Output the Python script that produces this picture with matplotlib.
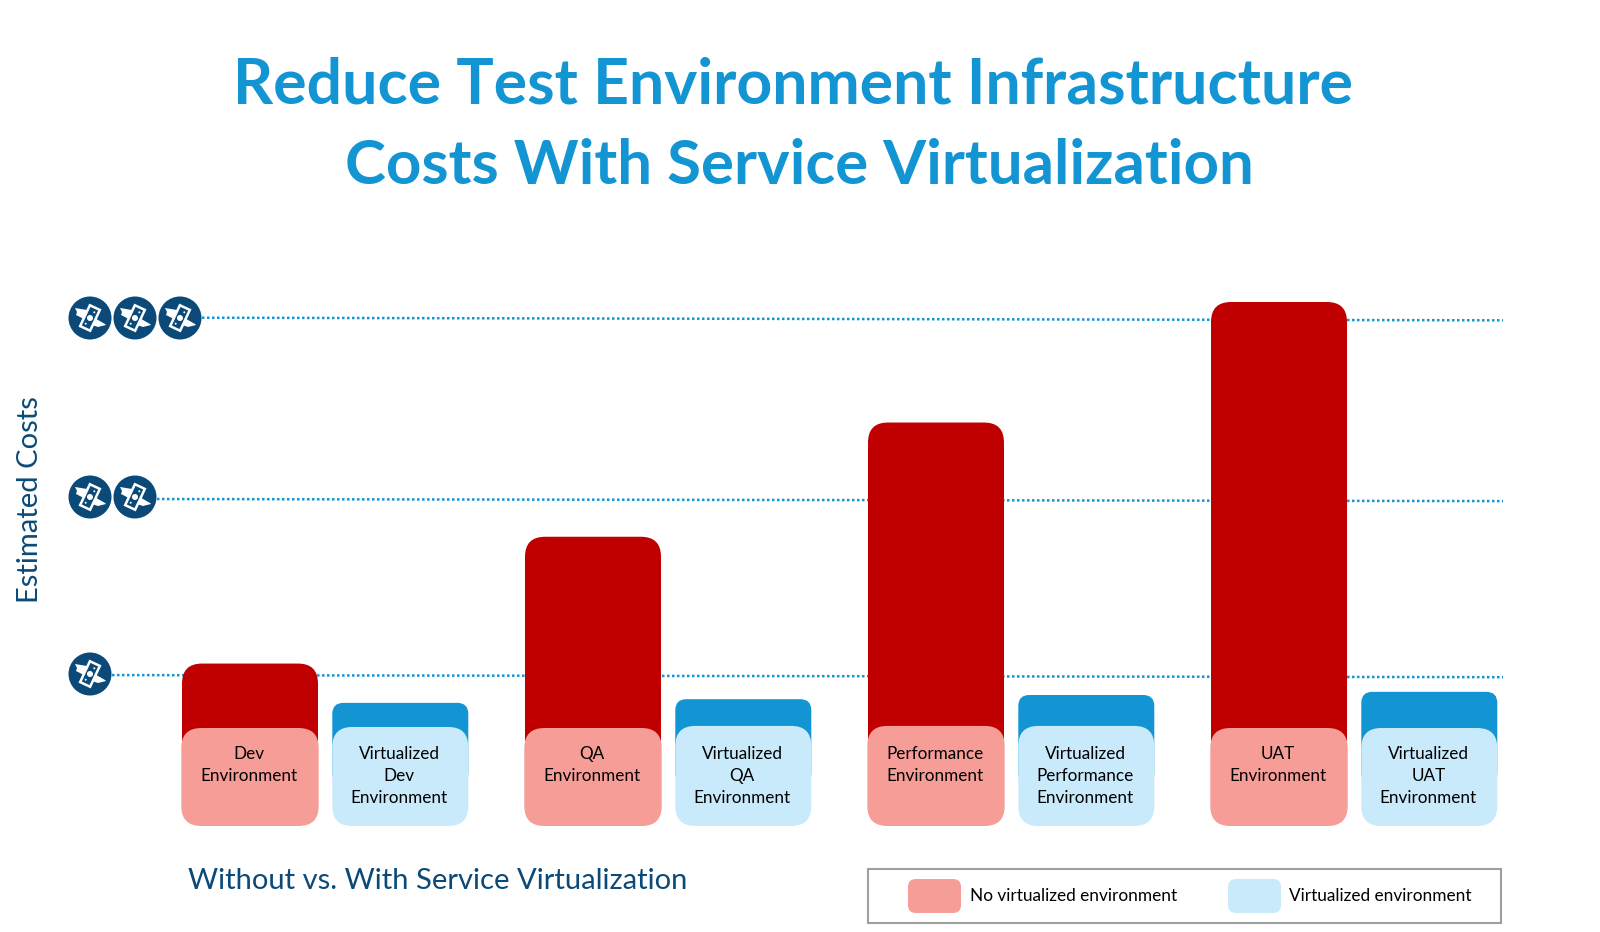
import numpy as np
import matplotlib
matplotlib.use("Agg")
import matplotlib.pyplot as plt
from matplotlib.patches import FancyBboxPatch, Circle, Polygon, Rectangle
from matplotlib.transforms import Affine2D

plt.rcParams['font.family'] = ['Lato', 'DejaVu Sans']

# bar heights on a 0-100 cost scale (UAT = 100)
envs = ["Dev", "QA", "Performance", "UAT"]
without_costs = [31, 55.2, 77, 100]
with_costs = [23.5, 24.2, 25, 25.6]
without_label_box = [18.7, 18.7, 19.1, 18.7]
with_label_box = [18.9, 19.1, 19.1, 18.7]

without_labels = ["Dev\nEnvironment", "QA\nEnvironment", "Performance\nEnvironment", "UAT\nEnvironment"]
with_labels = ["Virtualized\nDev\nEnvironment", "Virtualized\nQA\nEnvironment",
               "Virtualized\nPerformance\nEnvironment", "Virtualized\nUAT\nEnvironment"]

# dotted cost levels and how many money icons each one gets
level_start = [28.8, 62.4, 97.0]
level_end = [28.4, 62.0, 96.5]
level_icons = [1, 2, 3]

DARK_RED = "#c00000"
LIGHT_RED = "#f59d96"
BLUE = "#1295d2"
LIGHT_BLUE = "#c9eafb"
NAVY = "#0b4a78"

W, H = 1600, 932
BASE_PX, PX_PER_UNIT = 826, 5.24
GROUP_PX, BAR_PX = 343, 136
LEFT_PX, BLUE_OFFSET_PX = 182, 150.3

fig = plt.figure(figsize=(W / 100, H / 100), dpi=100)

# main axes: x in group units, y in cost units
ax = fig.add_axes([0, 0, 1, 1])
ax.set_xlim(-LEFT_PX / GROUP_PX, (W - LEFT_PX) / GROUP_PX)
ax.set_ylim((BASE_PX - H) / PX_PER_UNIT, BASE_PX / PX_PER_UNIT)
ax.axis("off")

# overlay in pixels for text and icons
ov = fig.add_axes([0, 0, 1, 1], zorder=5)
ov.set_xlim(0, W)
ov.set_ylim(H, 0)
ov.axis("off")
ov.patch.set_alpha(0)


def round_bar(x, width, height, color, radius_px, zorder, bottom=0):
    # radius is given in pixels, so convert to x units and squash y to match
    r = radius_px / GROUP_PX
    aspect = (GROUP_PX / PX_PER_UNIT)
    patch = FancyBboxPatch((x + r, bottom + r * aspect), width - 2 * r, height - bottom - 2 * r * aspect,
                           boxstyle=f"round,pad={r},rounding_size={r}",
                           mutation_aspect=aspect, fc=color, ec="none", zorder=zorder)
    ax.add_patch(patch)


def money_icon(cx, cy):
    ov.add_patch(Circle((cx, cy), 21.5, fc=NAVY, ec="none"))
    rot = Affine2D().rotate_deg(25).translate(cx, cy) + ov.transData
    shift = Affine2D().translate(cx, cy) + ov.transData
    # wings
    ov.add_patch(Polygon([(-3, -8), (-15, -10), (-13, -6), (-14, -3), (-10, -1), (-3, 3)],
                         fc="white", ec="none", transform=shift))
    ov.add_patch(Polygon([(3, -1), (8, 2), (15, 6), (16, 7), (12, 8), (8, 9), (2, 7)],
                         fc="white", ec="none", transform=shift))
    # bill
    ov.add_patch(Rectangle((-5.5, -11.5), 11, 23, fc=NAVY, ec="white", lw=1.8, transform=rot))
    ov.add_patch(Circle((0, 0), 3, fc="white", ec="none", transform=rot))
    ov.add_patch(Circle((1.5, -7), 1, fc="white", ec="none", transform=rot))
    ov.add_patch(Circle((-1.5, 7), 1, fc="white", ec="none", transform=rot))


bar_w = BAR_PX / GROUP_PX
blue_off = BLUE_OFFSET_PX / GROUP_PX
icon_y = [674, 497, 318]

# dotted level lines go behind the bars
for i, n in enumerate(level_icons):
    x0 = (90 + 45 * (n - 1) + 22 - LEFT_PX) / GROUP_PX
    x1 = (1503 - LEFT_PX) / GROUP_PX
    ax.plot([x0, x1], [level_start[i], level_end[i]], ls=(0, (1, 1)), color=BLUE, lw=1.8, zorder=1)
    for k in range(n):
        money_icon(90 + 45 * k, icon_y[i])

for g in range(len(envs)):
    # dark bars start above the baseline so their corners stay behind the label box
    round_bar(g, bar_w, without_costs[g], DARK_RED, 20, 2, bottom=8)
    round_bar(g + blue_off, bar_w, with_costs[g], BLUE, 11, 2, bottom=8)
    round_bar(g - 0.002, bar_w + 0.004, without_label_box[g], LIGHT_RED, 20, 3)
    round_bar(g + blue_off, bar_w, with_label_box[g], LIGHT_BLUE, 20, 3)
    cx = LEFT_PX + GROUP_PX * g + BAR_PX / 2
    ov.text(cx - 1, 746, without_labels[g], ha="center", va="top", fontsize=12.3, color="black",
            linespacing=1.46)
    ov.text(cx + BLUE_OFFSET_PX - 1, 746, with_labels[g], ha="center", va="top", fontsize=12.3, color="black",
            linespacing=1.46)

# title and axis text
ov.text(793, 85, "Reduce Test Environment Infrastructure", ha="center", va="center",
        fontsize=45, fontweight="bold", color=BLUE)
ov.text(799.5, 166, "Costs With Service Virtualization", ha="center", va="center",
        fontsize=44.5, fontweight="bold", color=BLUE)
ov.text(30, 500, "Estimated Costs", rotation=90, ha="center", va="center", fontsize=21, color=NAVY)
ov.text(188, 881, "Without vs. With Service Virtualization", ha="left", va="center", fontsize=21, color=NAVY)

# hand built legend box
ov.add_patch(Rectangle((868, 869), 633, 54, fc="white", ec="#a0a0a0", lw=1.5))
ov.add_patch(FancyBboxPatch((914, 885), 41, 22, boxstyle="round,pad=6,rounding_size=8", fc=LIGHT_RED, ec="none"))
ov.add_patch(FancyBboxPatch((1234, 885), 41, 22, boxstyle="round,pad=6,rounding_size=8", fc=LIGHT_BLUE, ec="none"))
ov.text(970, 896, "No virtualized environment", ha="left", va="center", fontsize=12.4, color="black")
ov.text(1289, 896, "Virtualized environment", ha="left", va="center", fontsize=12.4, color="black")

fig.savefig("out.png", dpi=100, facecolor="white")
